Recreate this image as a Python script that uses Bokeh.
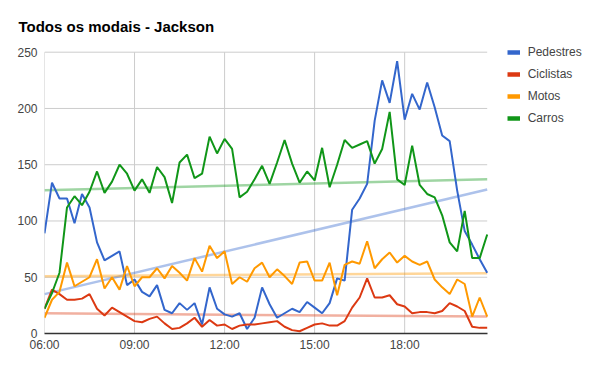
from bokeh.plotting import figure
from bokeh.models import Range1d, FixedTicker, Legend, LegendItem
from bokeh.embed import file_html
from bokeh.resources import INLINE
import numpy as np

times = ["06:00", "06:15", "06:30", "06:45", "07:00", "07:15", "07:30", "07:45",
         "08:00", "08:15", "08:30", "08:45", "09:00", "09:15", "09:30", "09:45",
         "10:00", "10:15", "10:30", "10:45", "11:00", "11:15", "11:30", "11:45",
         "12:00", "12:15", "12:30", "12:45", "13:00", "13:15", "13:30", "13:45",
         "14:00", "14:15", "14:30", "14:45", "15:00", "15:15", "15:30", "15:45",
         "16:00", "16:15", "16:30", "16:45", "17:00", "17:15", "17:30", "17:45",
         "18:00", "18:15", "18:30", "18:45", "19:00", "19:15", "19:30", "19:45",
         "20:00", "20:15", "20:30", "20:45"]

pedestres = [89, 134, 120, 120, 98, 124, 112, 81, 65, 69, 73, 43, 48, 37, 33, 43,
             21, 18, 27, 21, 27, 8, 41, 22, 17, 15, 18, 4, 14, 41, 26, 14,
             18, 22, 19, 28, 23, 18, 27, 49, 47, 110, 120, 133, 189, 225, 205, 242,
             190, 213, 199, 223, 201, 176, 171, 127, 91, 79, 66, 54]
ciclistas = [22, 39, 35, 30, 30, 31, 35, 22, 16, 23, 19, 15, 11, 10, 13, 15,
             9, 4, 5, 9, 14, 6, 12, 7, 8, 4, 7, 8, 8, 9, 10, 11,
             6, 3, 2, 5, 8, 9, 7, 7, 11, 23, 32, 49, 32, 32, 34, 26,
             24, 18, 19, 19, 18, 20, 27, 24, 20, 6, 5, 5]
motos = [14, 30, 37, 63, 42, 46, 50, 66, 40, 50, 39, 60, 42, 50, 50, 58,
         49, 60, 54, 47, 67, 55, 78, 67, 73, 44, 50, 46, 58, 63, 50, 57,
         51, 44, 63, 64, 47, 47, 63, 34, 61, 64, 62, 82, 58, 66, 72, 63,
         69, 64, 61, 64, 48, 41, 35, 48, 44, 15, 32, 15]
carros = [22, 36, 54, 112, 122, 114, 126, 144, 125, 135, 150, 142, 127, 137, 125, 148,
          139, 116, 152, 159, 138, 142, 175, 160, 173, 164, 121, 126, 137, 149, 133, 152,
          172, 151, 134, 144, 136, 165, 130, 150, 172, 165, 168, 171, 151, 164, 197, 137,
          132, 167, 132, 124, 121, 105, 81, 73, 109, 67, 67, 88]

series_names = ["Pedestres", "Ciclistas", "Motos", "Carros"]
series_colors = ["#3366cc", "#dc3912", "#ff9900", "#109618"]
x_tick_labels = ["06:00", "09:00", "12:00", "15:00", "18:00"]
y_ticks = [0, 50, 100, 150, 200, 250]
title_text = "Todos os modais - Jackson"


def to_hours(s):
    h, m = s.split(":")
    return int(h) + int(m) / 60.0


x = [to_hours(t) for t in times]
tick_pos = [to_hours(t) for t in x_tick_labels]
x0, x1 = x[0], x[-1]
y0, y1 = y_ticks[0], y_ticks[-1]

# layout (pixels)
W, H = 598, 369
BL, BT, BB = 44, 40, 36
data_left, data_right = 44.0, 486.7      # px of first / last time
data_bottom, data_top = 333.0, 51.7      # px of y=0 / y=250
xs = (data_right - data_left) / (x1 - x0)
ys = (data_bottom - data_top) / (y1 - y0)
xr_end = x0 + (W - data_left) / xs
yr_end = y0 + (data_bottom - BT) / ys

p = figure(width=W, height=H, output_backend="svg", toolbar_location=None,
           x_range=Range1d(x0, xr_end), y_range=Range1d(y0, yr_end),
           min_border_left=BL, min_border_right=0, min_border_top=BT,
           min_border_bottom=BB, title=title_text)
p.outline_line_color = None
p.background_fill_color = "white"
p.border_fill_color = "white"

FONT = "Liberation Sans"

p.title.text_font = FONT
p.title.text_font_size = "15px"
p.title.text_font_style = "bold"
p.title.text_color = "#000000"
p.title.align = "left"
p.title.offset = -26
p.title.standoff = 11

p.xaxis.ticker = FixedTicker(ticks=tick_pos)
p.xaxis.major_label_overrides = {tp: lab for tp, lab in zip(tick_pos, x_tick_labels)}
p.xaxis.bounds = (x0, x1)
p.xaxis.major_tick_line_color = None
p.xaxis.minor_tick_line_color = None
p.xaxis.major_tick_out = 0
p.xaxis.major_tick_in = 0
p.xaxis.axis_line_color = "#333333"
p.xaxis.axis_line_width = 1.5
p.xaxis.major_label_standoff = 4
p.xaxis.major_label_text_font = FONT
p.xaxis.major_label_text_font_size = "12px"
p.xaxis.major_label_text_color = "#444444"

p.yaxis.ticker = FixedTicker(ticks=y_ticks)
p.yaxis.major_tick_line_color = None
p.yaxis.minor_tick_line_color = None
p.yaxis.major_tick_out = 0
p.yaxis.major_tick_in = 0
p.yaxis.axis_line_color = None
p.yaxis.major_label_standoff = 7
p.yaxis.major_label_text_font = FONT
p.yaxis.major_label_text_font_size = "12px"
p.yaxis.major_label_text_color = "#444444"

p.xgrid.visible = False
p.ygrid.visible = False

# grid lines limited to the data area
gy = y_ticks[1:]
p.segment(x0=[x0] * len(gy), x1=[x1] * len(gy), y0=gy, y1=gy,
          line_color="#cccccc", line_width=1)
p.segment(x0=tick_pos, x1=tick_pos, y0=[y0] * len(tick_pos), y1=[y1] * len(tick_pos),
          line_color="#cccccc", line_width=1)

all_series = [pedestres, ciclistas, motos, carros]
xa = np.array(x)

# trendlines (linear least squares)
for vals, col in zip(all_series, series_colors):
    k, b = np.polyfit(xa, np.array(vals, dtype=float), 1)
    p.line(x=[x0, x1], y=[k * x0 + b, k * x1 + b],
           line_color=col, line_alpha=0.4, line_width=2.5)

items = []
for name, vals, col in zip(series_names, all_series, series_colors):
    p.line(x=x, y=vals, line_color=col, line_width=2)
    # legend-only renderer (no visible data) for a thicker swatch
    dummy = p.line(x=[np.nan], y=[np.nan], line_color=col, line_width=4.5)
    items.append(LegendItem(label=name, renderers=[dummy]))

# legend: swatch left at 506.7 px, first entry centred at 52.3 px
ent_h, ent_sp = 14, 8
leg_h = 4 * ent_h + 3 * ent_sp
leg_top = 52.3 - ent_h / 2
legend = Legend(items=items,
                location=(506.7 - BL, (H - BB) - leg_top - leg_h),
                orientation="vertical", padding=0, margin=0, spacing=ent_sp,
                glyph_width=13, glyph_height=ent_h, label_height=ent_h,
                label_standoff=8, border_line_color=None,
                background_fill_alpha=0,
                label_text_font=FONT, label_text_font_size="12px",
                label_text_color="#444444")
p.add_layout(legend, "center")

open("out.html", "w").write(file_html(p, INLINE))
